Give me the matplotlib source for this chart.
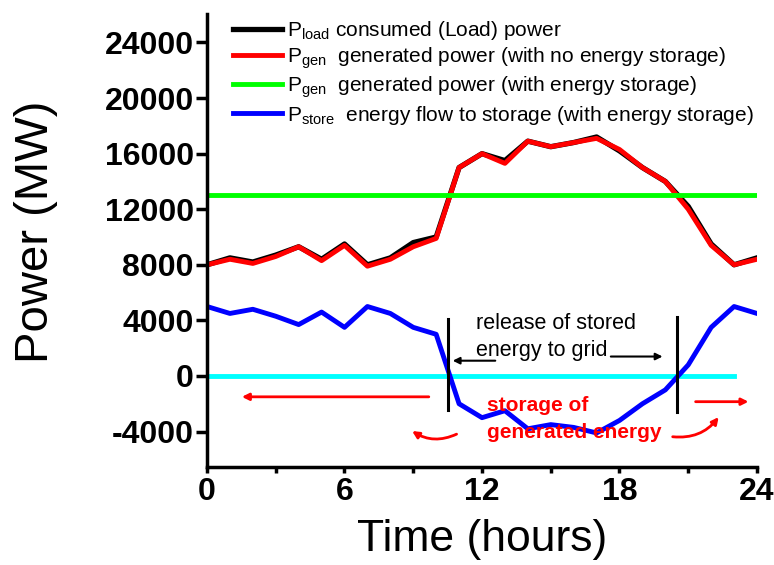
import numpy as np
import matplotlib
matplotlib.use("Agg")
import matplotlib.pyplot as plt

plt.rcParams['font.family'] = ['Liberation Sans', 'DejaVu Sans']
plt.rcParams['mathtext.default'] = 'regular'
plt.rcParams['axes.unicode_minus'] = False

# hourly data
saat = [0, 1, 2, 3, 4, 5, 6, 7, 8, 9, 10, 11, 12, 13, 14, 15, 16, 17, 18, 19, 20, 21, 22, 23, 24]
p_load = [8000, 8500, 8200, 8700, 9300, 8400, 9500, 8000, 8500, 9600, 10000, 15000, 16000,
          15500, 16900, 16500, 16800, 17200, 16200, 15000, 14000, 12200, 9500, 8000, 8500]
p_gen_no = [8000, 8400, 8100, 8600, 9300, 8300, 9400, 7900, 8400, 9300, 9900, 15000, 16000,
            15300, 16900, 16500, 16800, 17100, 16300, 15000, 14000, 12000, 9400, 8000, 8400]
p_store = [5000, 4500, 4800, 4300, 3700, 4600, 3500, 5000, 4500, 3500, 3000, -2000, -3000,
           -2500, -3800, -3500, -3700, -4100, -3200, -2000, -1000, 800, 3500, 5000, 4500]
flat_saat = [0, 24]
p_gen_store = [13000, 13000]
sifir_saat = [0, 23]
sifir = [0, 0]

etiketler = ["P$_{load}$ consumed (Load) power",
             "P$_{gen}$  generated power (with no energy storage)",
             "P$_{gen}$  generated power (with energy storage)",
             "P$_{store}$  energy flow to storage (with energy storage)"]

fig = plt.figure(figsize=(7.74, 5.65), dpi=100)
ax = fig.add_axes([207/774, 1-467/565, 550/774, 453/565])

l1, = ax.plot(saat, p_load, color="black", linewidth=3.8)
l2, = ax.plot(saat, p_gen_no, color="#ff0000", linewidth=3.5)
l3, = ax.plot(flat_saat, p_gen_store, color="#00ff00", linewidth=3.5)
ax.plot(sifir_saat, sifir, color="#00ffff", linewidth=3.5)
l4, = ax.plot(saat, p_store, color="#0000ff", linewidth=3.5)

# markers for the release window
ax.plot([10.5, 10.5], [4100, -2450], color="black", linewidth=2.2)
ax.plot([20.5, 20.5], [4250, -2600], color="black", linewidth=2.2)

ax.text(11.75, 3800, "release of stored", fontsize=15.5, va="center", ha="left")
ax.text(11.75, 1850, "energy to grid", fontsize=15.5, va="center", ha="left")
ax.annotate("", xy=(10.6, 1100), xytext=(12.7, 1100),
            arrowprops=dict(arrowstyle="-|>", color="black", lw=1.5, mutation_scale=10))
ax.annotate("", xy=(20.0, 1400), xytext=(17.5, 1400),
            arrowprops=dict(arrowstyle="-|>", color="black", lw=1.5, mutation_scale=10))

ax.text(12.2, -2100, "storage of", fontsize=15, fontweight="bold", color="red", va="center")
ax.text(12.2, -4050, "generated energy", fontsize=15, fontweight="bold", color="red", va="center")
ax.annotate("", xy=(1.4, -1500), xytext=(9.8, -1500),
            arrowprops=dict(arrowstyle="-|>", color="red", lw=2, mutation_scale=10))
ax.annotate("", xy=(23.75, -1850), xytext=(21.2, -1850),
            arrowprops=dict(arrowstyle="-|>", color="red", lw=2, mutation_scale=10))
ax.annotate("", xy=(8.85, -3850), xytext=(11.0, -4100),
            arrowprops=dict(arrowstyle="-|>", color="red", lw=2, mutation_scale=10,
                            connectionstyle="arc3,rad=-0.3"))
ax.annotate("", xy=(22.4, -2800), xytext=(20.2, -4350),
            arrowprops=dict(arrowstyle="-|>", color="red", lw=2, mutation_scale=10,
                            connectionstyle="arc3,rad=0.3"))

ax.set_xlim(0, 24)
ax.set_ylim(-6550, 26050)
ax.set_xticks([0, 6, 12, 18, 24])
ax.set_xticks([3, 9, 15, 21], minor=True)
ax.set_yticks([-4000, 0, 4000, 8000, 12000, 16000, 20000, 24000])
for s in ["top", "right"]:
    ax.spines[s].set_visible(False)
for s in ["left", "bottom"]:
    ax.spines[s].set_linewidth(2.5)
ax.tick_params(axis="y", which="major", length=8, width=2.5, labelsize=23, pad=1.5)
ax.tick_params(axis="x", which="both", length=4, width=2.5, labelsize=23, pad=3)
for lab in ax.get_xticklabels() + ax.get_yticklabels():
    lab.set_fontweight("bold")

ax.set_xlabel("Time (hours)", fontsize=32, labelpad=9)
ax.set_ylabel("Power (MW)", fontsize=34)
ax.yaxis.set_label_coords(-0.27, 0.519)

ax.legend([l1, l2, l3, l4], etiketler, loc="upper left", frameon=False,
          bbox_to_anchor=(233/774, 1-19/565), bbox_transform=fig.transFigure,
          borderpad=0, borderaxespad=0, fontsize=15, handlelength=2.35,
          handletextpad=0.24, labelspacing=0.17)

plt.savefig("out.png", dpi=100)
